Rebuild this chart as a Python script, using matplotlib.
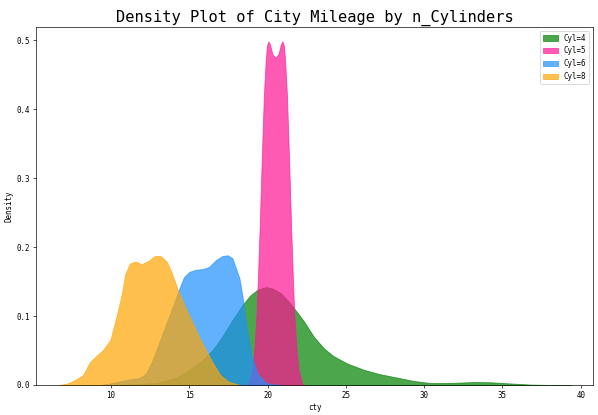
import matplotlib
matplotlib.use("Agg")
import matplotlib.pyplot as plt

# The original uses a CJK font with half-width (monospaced) latin glyphs
plt.rcParams['font.family'] = ['DejaVu Sans Mono', 'Noto Sans CJK SC']
plt.rcParams['font.size'] = 9

# --- density curves (cty vs density) ---
cyl4_x = [10.6, 11.5, 12.9, 14.1, 15.0, 15.8, 16.5, 17.1, 17.75, 18.4, 18.9, 19.35, 19.9,
          20.3, 20.85, 21.35, 21.8, 22.3, 22.95, 23.6, 24.2, 25.1, 26.15, 27.2, 28.3,
          29.3, 30.4, 31.7, 33.2, 34.2, 35.3, 36.8, 38.0, 39.4]
cyl4_y = [0.0, 0.001, 0.003, 0.010, 0.022, 0.035, 0.051, 0.070, 0.094, 0.116, 0.130, 0.138, 0.142,
          0.140, 0.133, 0.121, 0.108, 0.093, 0.070, 0.053, 0.042, 0.031, 0.022, 0.0155, 0.0106,
          0.006, 0.0028, 0.003, 0.0043, 0.004, 0.0025, 0.0006, 0.0001, 0.0]

cyl5_x = [18.7, 18.81, 19.02, 19.17, 19.30, 19.38, 19.49, 19.62, 19.76, 19.88, 19.96, 20.05,
          20.15, 20.3, 20.5, 20.7, 20.85, 20.95, 21.04, 21.12, 21.24, 21.38, 21.51, 21.62,
          21.70, 21.83, 21.98, 22.19, 22.3]
cyl5_y = [0.0, 0.0025, 0.022, 0.056, 0.104, 0.152, 0.225, 0.321, 0.418, 0.470, 0.492, 0.498,
          0.494, 0.480, 0.474, 0.480, 0.494, 0.498, 0.492, 0.470, 0.418, 0.321, 0.225, 0.152,
          0.104, 0.056, 0.022, 0.0025, 0.0]

cyl6_x = [9.3, 9.9, 10.7, 11.4, 11.8, 12.2, 12.6, 13.05, 13.7, 14.25, 14.65, 15.0, 15.4,
          15.85, 16.25, 16.7, 17.1, 17.45, 17.75, 17.95, 18.2, 18.4, 18.6, 18.8, 19.0,
          19.35, 19.9, 20.5, 21.0]
cyl6_y = [0.0, 0.002, 0.006, 0.009, 0.010, 0.016, 0.033, 0.060, 0.099, 0.133, 0.156, 0.164, 0.167,
          0.168, 0.171, 0.181, 0.187, 0.188, 0.184, 0.171, 0.155, 0.128, 0.094, 0.065, 0.041,
          0.017, 0.003, 0.0005, 0.0]

cyl8_x = [6.7, 7.2, 7.6, 8.2, 8.65, 9.1, 9.5, 9.95, 10.35, 10.7, 10.9, 11.2, 11.55, 11.95,
          12.4, 12.8, 13.15, 13.55, 13.85, 14.3, 14.8, 15.3, 15.7, 16.1, 16.5, 17.0, 17.5, 18.2]
cyl8_y = [0.0, 0.002, 0.006, 0.014, 0.033, 0.043, 0.051, 0.065, 0.099, 0.133, 0.160, 0.176,
          0.179, 0.175, 0.180, 0.187, 0.187, 0.179, 0.164, 0.136, 0.110, 0.086, 0.066, 0.049,
          0.032, 0.014, 0.005, 0.0]

series = [
    (cyl4_x, cyl4_y, 'g', 'Cyl=4'),
    (cyl5_x, cyl5_y, 'deeppink', 'Cyl=5'),
    (cyl6_x, cyl6_y, 'dodgerblue', 'Cyl=6'),
    (cyl8_x, cyl8_y, 'orange', 'Cyl=8'),
]

fig = plt.figure(figsize=(598 / 60, 415 / 60), dpi=60)
ax = fig.add_axes([0.060, 0.0723, 0.932, 0.8627])

for xs, ys, col, lab in series:
    ax.fill_between(xs, ys, facecolor=col, edgecolor=col, alpha=0.7, lw=1, label=lab)

ax.set_xlim(5.2, 40.8)
ax.set_ylim(0, 0.519)
ax.set_xticks([10, 15, 20, 25, 30, 35, 40])
ax.set_yticks([0.0, 0.1, 0.2, 0.3, 0.4, 0.5])
ax.set_xlabel('cty')
ax.set_ylabel('Density')
ax.set_title('Density Plot of City Mileage by n_Cylinders', fontsize=18.5)
ax.legend(loc='upper right')

fig.savefig('out.png', dpi=60)
